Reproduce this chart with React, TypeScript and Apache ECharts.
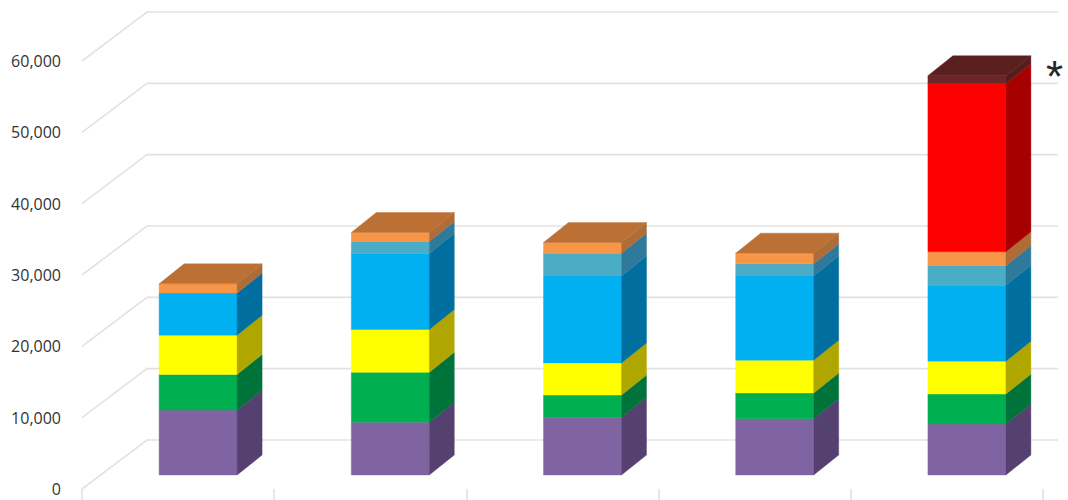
import React, { useEffect, useRef } from "react";
import * as echarts from "echarts";

// Hidden category keys: the axis shows ticks only.
const categories = ["A", "B", "C", "D", "E"];
const axisValues = [0, 10000, 20000, 30000, 40000, 50000, 60000];

const purpleValues = [9100, 7400, 8100, 7900, 7150];
const greenValues = [5000, 7000, 3100, 3600, 4200];
const yellowValues = [5500, 6000, 4500, 4600, 4600];
const blueValues = [5900, 10650, 12200, 11800, 10650];
const tealValues = [0, 1700, 3200, 1700, 2750];
const orangeValues = [1300, 1250, 1500, 1500, 1950];
const redValues = [0, 0, 0, 0, 23550];
const maroonValues = [0, 0, 0, 0, 1120];

const layers = [
  { values: purpleValues, front: "#8064a2", side: "#55416f", top: "#55416f" },
  { values: greenValues, front: "#00b050", side: "#00733a", top: "#00733a" },
  { values: yellowValues, front: "#ffff00", side: "#b0a600", top: "#b0a600" },
  { values: blueValues, front: "#00b0f0", side: "#006f9f", top: "#006f9f" },
  { values: tealValues, front: "#4bacc6", side: "#2f7a9a", top: "#2f7a9a" },
  { values: orangeValues, front: "#f79646", side: "#ad6c38", top: "#bd7034" },
  { values: redValues, front: "#ff0000", side: "#a60000", top: "#a60000" },
  { values: maroonValues, front: "#6b2626", side: "#581c1c", top: "#5a1f1f" },
];

// Oblique projection used for the walls and the boxes.
const WALL_DX = 65;
const WALL_DY = 49;
const BOX_DX = 25;
const BOX_DY = 20;
const BOX_SHIFT_X = 20;
const BOX_SHIFT_Y = 14;
const BOX_WIDTH = 78;
const WALL_OVERHANG = 15;
const GRID_COLOR = "#e2e2e2";

const topLayerOf = (cat: number) => {
  let last = 0;
  layers.forEach((l, i) => {
    if (l.values[cat] > 0) last = i;
  });
  return last;
};

const polygon = (points: number[][], color: string) => ({
  type: "polygon",
  shape: { points },
  style: { fill: color, stroke: color, lineWidth: 0.4 },
});

const stackedData = (layerIndex: number) =>
  categories.map((_, cat) => {
    let base = 0;
    for (let i = 0; i < layerIndex; i++) base += layers[i].values[cat];
    return [cat, base, base + layers[layerIndex].values[cat]];
  });

const boxSeries = layers.map((layer, layerIndex) => ({
  type: "custom",
  name: `layer${layerIndex}`,
  z: 3,
  clip: false,
  silent: true,
  encode: { x: 0, y: [1, 2] },
  data: stackedData(layerIndex),
  renderItem: (_params: any, api: any) => {
    const cat = api.value(0);
    if (api.value(2) <= api.value(1)) return null;
    const low = api.coord([cat, api.value(1)]);
    const high = api.coord([cat, api.value(2)]);
    const left = low[0] + BOX_SHIFT_X - BOX_WIDTH / 2;
    const right = left + BOX_WIDTH;
    const y0 = low[1] - BOX_SHIFT_Y;
    const y1 = high[1] - BOX_SHIFT_Y;
    const children: any[] = [
      polygon(
        [
          [left, y0],
          [right, y0],
          [right, y1],
          [left, y1],
        ],
        layer.front,
      ),
      polygon(
        [
          [right, y0],
          [right + BOX_DX, y0 - BOX_DY],
          [right + BOX_DX, y1 - BOX_DY],
          [right, y1],
        ],
        layer.side,
      ),
    ];
    if (topLayerOf(cat) === layerIndex) {
      children.push(
        polygon(
          [
            [left, y1],
            [right, y1],
            [right + BOX_DX, y1 - BOX_DY],
            [left + BOX_DX, y1 - BOX_DY],
          ],
          layer.top,
        ),
      );
    }
    return { type: "group", children };
  },
}));

// Side wall and back wall rules, one per axis value.
const wallSeries = {
  type: "custom",
  name: "walls",
  z: 1,
  clip: false,
  silent: true,
  encode: { x: 0, y: 1 },
  data: axisValues.map((v) => [0, v]),
  renderItem: (params: any, api: any) => {
    const sys = params.coordSys;
    const y = api.coord([0, api.value(1)])[1];
    return {
      type: "polyline",
      shape: {
        points: [
          [sys.x, y],
          [sys.x + WALL_DX, y - WALL_DY],
          [sys.x + sys.width + WALL_OVERHANG, y - WALL_DY],
        ],
      },
      style: { stroke: GRID_COLOR, lineWidth: 1.6, fill: "none" },
    };
  },
};

export default function App() {
  const ref = useRef<HTMLDivElement>(null);

  useEffect(() => {
    document.body.style.margin = "0";
    const chart = echarts.init(ref.current!, null, { renderer: "svg" });
    chart.setOption({
      animation: false,
      backgroundColor: "#ffffff",
      grid: { left: 82, right: 25, top: 61, bottom: 11 },
      xAxis: {
        type: "category",
        data: categories,
        axisLine: { show: false },
        axisTick: {
          show: true,
          length: 11,
          lineStyle: { color: GRID_COLOR, width: 1.6 },
        },
        axisLabel: { show: false },
      },
      yAxis: {
        type: "value",
        min: 0,
        max: 60000,
        interval: 10000,
        splitLine: { show: false },
        axisLine: { show: false },
        axisTick: { show: false },
        axisLabel: {
          margin: 21,
          color: "#333333",
          fontFamily: "Open Sans",
          fontSize: 16,
          lineHeight: 18,
          padding: [3, 0, 0, 0],
          formatter: (v: number) => v.toLocaleString("en-US"),
        },
      },
      graphic: [
        {
          type: "text",
          left: 1046,
          top: 54,
          style: {
            text: "*",
            fill: "#262626",
            font: "44px 'Liberation Sans'",
          },
        },
      ],
      series: [wallSeries, ...boxSeries],
    });
    return () => chart.dispose();
  }, []);

  return <div ref={ref} style={{ width: 1068, height: 500 }} />;
}
